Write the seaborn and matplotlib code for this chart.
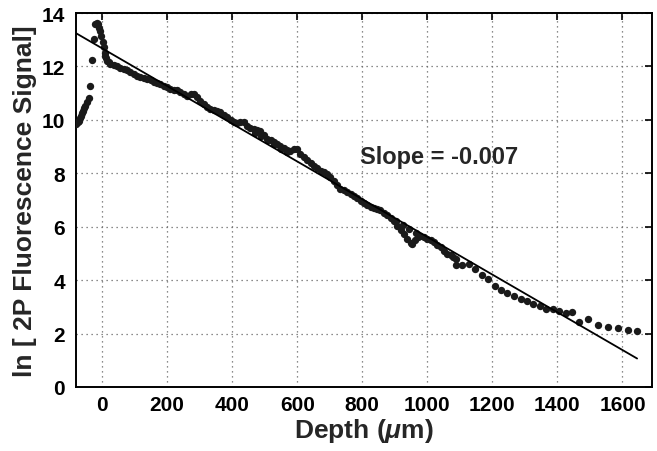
import numpy as np
import pandas as pd
import matplotlib.pyplot as plt
import seaborn as sns

# Depth (um) and ln of 2P fluorescence signal
depth = [-79, -75, -72, -68, -65, -61, -57, -54, -51, -46, -41, -36, -31, -26,
         -21, -16, -13, -10, -7, -3, 2, 5, 8, 10, 13, 15,
         20, 26, 36, 46, 56, 67, 77, 87, 97, 108, 118, 128, 138, 149, 159, 169,
         179, 190, 200, 210, 220, 231, 241, 251, 262, 272, 282, 292, 302, 313,
         323, 333, 343, 354, 364, 374, 385, 395, 405, 415, 425, 436, 446, 456,
         466, 477, 487, 497, 508, 518, 528, 538, 548, 559, 569, 579, 590, 600,
         610, 620, 630, 641, 651, 661, 672, 682, 692, 702, 713, 723, 733, 743,
         754, 764, 774, 784, 795, 805, 815, 826, 836, 846, 856, 866, 877, 887,
         897, 908, 918, 928, 938, 949, 954, 962, 970, 979, 990, 1000, 1010,
         1020, 1031, 1041, 1051, 1061, 1072, 1080, 1087,
         470, 490, 510, 530, 550, 570, 905, 925, 945, 965,
         1087, 1108, 1128, 1148, 1167, 1187, 1207, 1226, 1246, 1266, 1287, 1308,
         1326, 1347, 1366, 1387, 1405, 1426, 1446, 1466, 1495, 1526, 1556, 1585,
         1616, 1646]
signal = [9.85, 9.92, 9.97, 10.06, 10.16, 10.25, 10.35, 10.44, 10.53, 10.67,
          10.81, 11.28, 12.25, 13.03, 13.59, 13.62, 13.59, 13.45, 13.34, 13.15,
          12.9, 12.72, 12.52, 12.4, 12.3, 12.22,
          12.15, 12.09, 12.05, 12.0, 11.95, 11.9, 11.85, 11.8, 11.72, 11.66,
          11.6, 11.56, 11.53, 11.48, 11.43, 11.39, 11.35, 11.28, 11.22, 11.16,
          11.13, 11.1, 11.05, 10.97, 10.91, 10.95, 10.97, 10.85, 10.72, 10.6,
          10.5, 10.41, 10.36, 10.32, 10.29, 10.2, 10.1, 10.0, 9.91, 9.9, 9.92,
          9.91, 9.78, 9.7, 9.66, 9.63, 9.6, 9.42, 9.3, 9.23, 9.16, 9.1, 9.04,
          8.96, 8.88, 8.82, 8.9, 8.92, 8.72, 8.6, 8.5, 8.4, 8.29, 8.18, 8.1,
          8.04, 7.98, 7.86, 7.73, 7.58, 7.42, 7.36, 7.3, 7.23, 7.15, 7.06, 6.98,
          6.9, 6.82, 6.74, 6.7, 6.65, 6.61, 6.53, 6.45, 6.33, 6.2, 6.03, 5.88,
          5.72, 5.55, 5.4, 5.36, 5.5, 5.6, 5.67, 5.6, 5.55, 5.5, 5.43, 5.33,
          5.24, 5.08, 4.99, 4.95, 4.87, 4.8,
          9.5, 9.38, 9.25, 9.1, 8.92, 8.78, 6.2, 6.05, 5.9, 5.75,
          4.58, 4.58, 4.62, 4.40, 4.18, 4.06, 3.78, 3.62, 3.53, 3.41, 3.31, 3.21,
          3.11, 3.03, 2.93, 2.91, 2.83, 2.78, 2.81, 2.44, 2.54, 2.31, 2.24, 2.2,
          2.14, 2.10]

# Linear fit shown on the plot
fit_slope = -0.00706
fit_intercept = 12.68
fit_start, fit_end = -80, 1645

df = pd.DataFrame({"depth": depth, "signal": signal})
fit_x = np.array([fit_start, fit_end])
fit_df = pd.DataFrame({"depth": fit_x, "signal": fit_intercept + fit_slope * fit_x})

sns.set_style("white")
plt.rcParams['font.family'] = ['Liberation Sans', 'DejaVu Sans']
plt.rcParams['font.weight'] = 'bold'
plt.rcParams['mathtext.fontset'] = 'custom'
plt.rcParams['mathtext.it'] = 'Liberation Sans:italic:bold'
plt.rcParams['mathtext.rm'] = 'Liberation Sans:bold'

fig = plt.figure(figsize=(6.57, 4.52), dpi=100)
ax = fig.add_axes([0.1157, 0.1416, 0.8763, 0.8274])

sns.scatterplot(data=df, x="depth", y="signal", ax=ax, color="#1a1a1a",
                s=28, linewidth=0, zorder=3)
sns.lineplot(data=fit_df, x="depth", y="signal", ax=ax, color="black",
             linewidth=1.3, zorder=4)

ax.set_xlim(-80, 1690)
ax.set_ylim(0, 14)
ax.set_xticks(range(0, 1601, 200))
ax.set_yticks(range(0, 15, 2))
ax.grid(True, linestyle=(0, (1, 3)), color="0.4", linewidth=0.9)
ax.tick_params(direction="in", length=5, width=1.2, top=True, right=True,
               labelsize=15, colors="black")
ax.tick_params(axis="x", pad=6)
ax.tick_params(axis="y", pad=8)
for lab in ax.get_xticklabels() + ax.get_yticklabels():
    lab.set_fontweight("bold")
for sp in ax.spines.values():
    sp.set_linewidth(1.4)
    sp.set_color("black")

ax.set_xlabel(r"Depth ($\mathit{\mu}$m)", fontsize=19, fontweight="bold", labelpad=1)
ax.set_ylabel("ln [ 2P Fluorescence Signal]", fontsize=19, fontweight="bold", labelpad=3)
ax.text(792, 8.62, "Slope = -0.007", fontsize=17, fontweight="bold", va="center")

fig.savefig("out.png", dpi=100)
